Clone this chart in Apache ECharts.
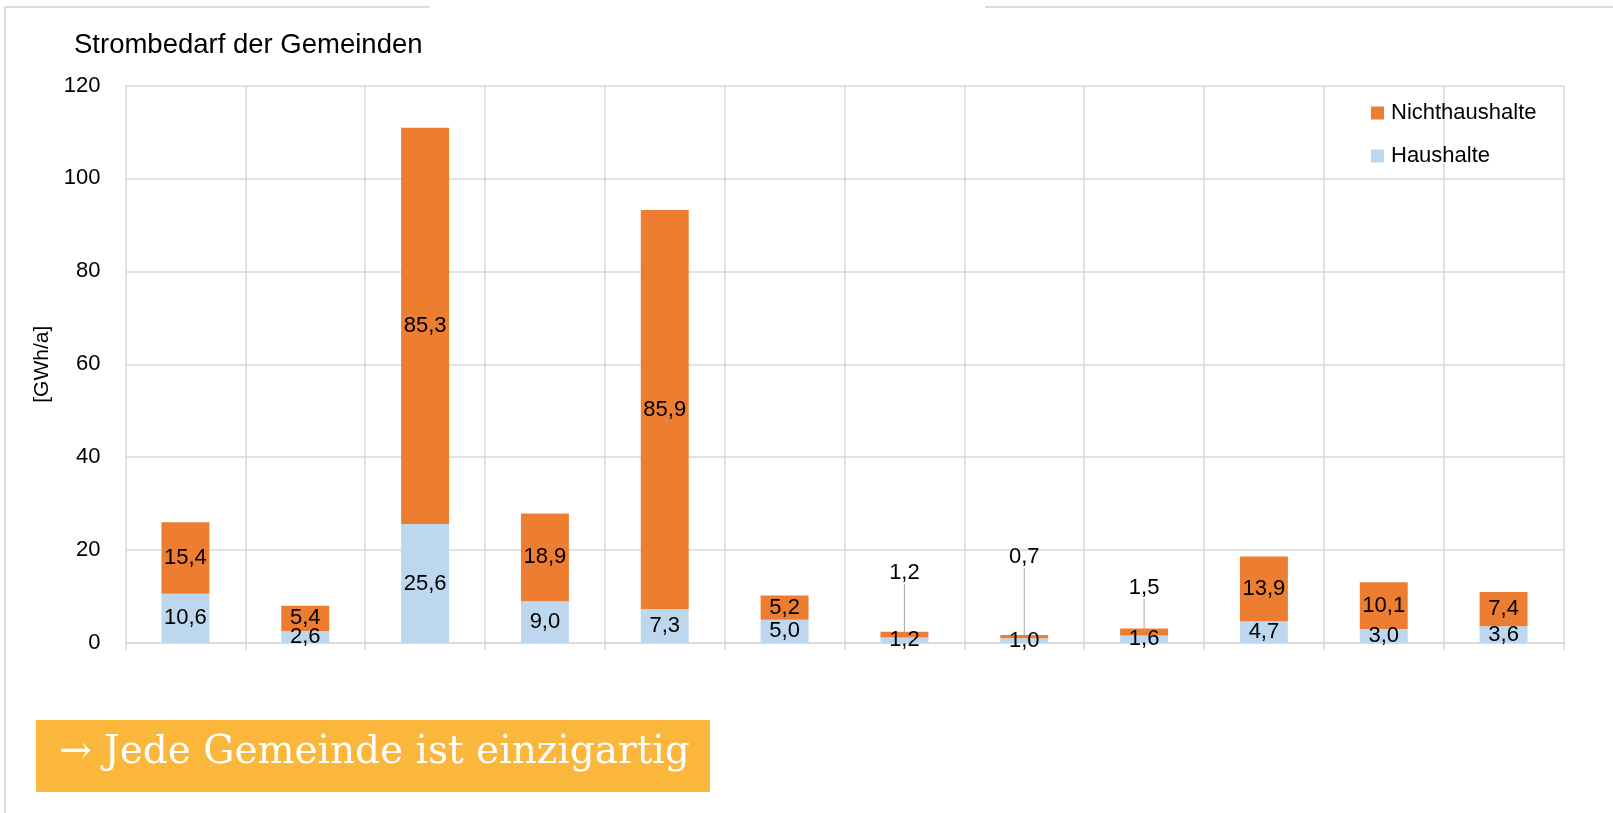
<!DOCTYPE html>
<html>
<head>
<meta charset="utf-8">
<script src="https://cdn.jsdelivr.net/npm/echarts@6/dist/echarts.min.js"></script>
<style>
  html, body { margin: 0; padding: 0; background: #fff; }
  #chart { width: 1613px; height: 813px; }
</style>
</head>
<body>
<div id="chart"></div>
<script>
// Gemeinden (no names shown in the chart)
const gemeinden = ['G1', 'G2', 'G3', 'G4', 'G5', 'G6', 'G7', 'G8', 'G9', 'G10', 'G11', 'G12']
const haushalte = [10.6, 2.6, 25.6, 9.0, 7.3, 5.0, 1.2, 1.0, 1.6, 4.7, 3.0, 3.6]
const nichthaushalte = [15.4, 5.4, 85.3, 18.9, 85.9, 5.2, 1.2, 0.7, 1.5, 13.9, 10.1, 7.4]
const yTicks = [0, 20, 40, 60, 80, 100, 120]

// labels of tiny bars are lifted above the bar with a leader line
const liftedLabels = { 6: -43, 7: -62, 8: -25 }

const fmt = (p) => p.value.toFixed(1).replace('.', ',')
const FONT = '"Liberation Sans", Arial, sans-serif'

const orangeData = nichthaushalte.map((v, i) => {
  if (liftedLabels[i] === undefined) return v
  return {
    value: v,
    label: { position: 'top', distance: 5 },
    labelLine: { show: true, lineStyle: { color: '#a6a6a6', width: 1 } },
  }
})

const option = {
  animation: false,
  backgroundColor: '#fff',
  title: {
    text: 'Strombedarf der Gemeinden',
    left: 69,
    top: 26,
    textStyle: { fontFamily: FONT, fontSize: 27.5, fontWeight: 'normal', color: '#000' },
  },
  legend: {
    orient: 'vertical',
    left: 1366,
    top: 97,
    itemWidth: 13,
    itemHeight: 13,
    itemGap: 21,
    icon: 'rect',
    data: ['Nichthaushalte', 'Haushalte'],
    textStyle: { fontFamily: FONT, fontSize: 22, color: '#000', padding: [0, 0, 0, 2] },
  },
  grid: {
    left: 125.5,
    right: 49.5,
    top: 85.5,
    bottom: 170,
  },
  xAxis: {
    type: 'category',
    data: gemeinden,
    axisLine: { show: true, lineStyle: { color: '#d9d9d9', width: 1.5 } },
    axisTick: { show: true, length: 7, lineStyle: { color: '#d9d9d9', width: 1.5 } },
    axisLabel: { show: false },
    splitLine: { show: true, lineStyle: { color: '#d9d9d9', width: 1.5 } },
  },
  yAxis: {
    type: 'value',
    min: yTicks[0],
    max: yTicks[yTicks.length - 1],
    interval: 20,
    name: '[GWh/a]',
    nameLocation: 'middle',
    nameGap: 70,
    nameTextStyle: { fontFamily: FONT, fontSize: 21, color: '#000' },
    axisLine: { show: false },
    axisTick: { show: false },
    axisLabel: { margin: 25, fontFamily: FONT, fontSize: 22, color: '#000' },
    splitLine: { lineStyle: { color: '#d9d9d9', width: 1.5 } },
  },
  series: [
    {
      name: 'Haushalte',
      type: 'bar',
      stack: 'total',
      barWidth: '40%',
      data: haushalte,
      itemStyle: { color: '#bdd7ee' },
      label: { show: true, position: 'inside', formatter: fmt, fontFamily: FONT, fontSize: 22, color: '#000' },
    },
    {
      name: 'Nichthaushalte',
      type: 'bar',
      stack: 'total',
      barWidth: '40%',
      data: orangeData,
      itemStyle: { color: '#ed7d31' },
      label: { show: true, position: 'inside', formatter: fmt, fontFamily: FONT, fontSize: 22, color: '#000' },
      labelLayout: (p) => (liftedLabels[p.dataIndex] !== undefined ? { dy: liftedLabels[p.dataIndex] } : {}),
    },
  ],
  graphic: [
    // frame of the slide box
    { type: 'line', shape: { x1: 5, y1: 7, x2: 430, y2: 7 }, style: { stroke: '#dcdcdc', lineWidth: 2 } },
    { type: 'line', shape: { x1: 985, y1: 7, x2: 1613, y2: 7 }, style: { stroke: '#dcdcdc', lineWidth: 2 } },
    { type: 'line', shape: { x1: 5, y1: 7, x2: 5, y2: 813 }, style: { stroke: '#dcdcdc', lineWidth: 2 } },
    // banner
    { type: 'rect', shape: { x: 36, y: 720, width: 674, height: 72 }, style: { fill: '#fbb73c' } },
    {
      type: 'text',
      left: 59,
      top: 733,
      style: { text: '→ Jede Gemeinde ist einzigartig', fill: '#fff', font: '39px "DejaVu Serif", serif' },
    },
  ],
}

const chart = echarts.init(document.getElementById('chart'))
chart.setOption(option)
</script>
</body>
</html>
